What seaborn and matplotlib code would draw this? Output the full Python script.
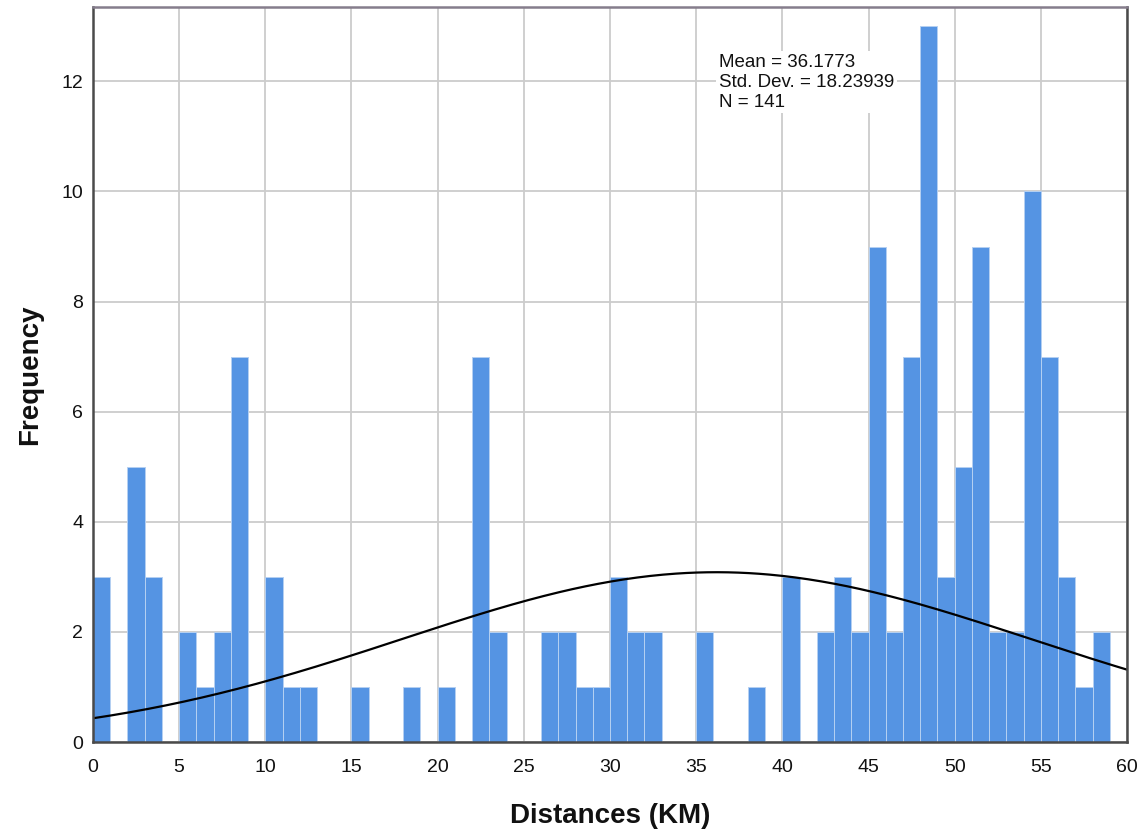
import numpy as np
import pandas as pd
import matplotlib
matplotlib.use("Agg")
import matplotlib.pyplot as plt
import seaborn as sns

# Frequency of distances, in 1 km bins starting at 0
bin_starts = list(range(60))
counts = [3, 0, 5, 3, 0, 2, 1, 2, 7, 0,
          3, 1, 1, 0, 0, 1, 0, 0, 1, 0,
          1, 0, 7, 2, 0, 0, 2, 2, 1, 1,
          3, 2, 2, 0, 0, 2, 0, 0, 1, 0,
          3, 0, 2, 3, 2, 9, 2, 7, 13, 3,
          5, 9, 2, 2, 10, 7, 3, 1, 2, 0]

# Summary statistics
mean_km = 36.1773
std_km = 18.23939
n_obs = 141

x_ticks = [0, 5, 10, 15, 20, 25, 30, 35, 40, 45, 50, 55, 60]
y_ticks = [0, 2, 4, 6, 8, 10, 12]

sns.set_theme(style="white")
plt.rcParams["font.family"] = ["Liberation Sans", "DejaVu Sans"]

df = pd.DataFrame({"mid": np.array(bin_starts) + 0.5, "count": counts})

fig = plt.figure(figsize=(11.45, 8.34), dpi=100)
ax = fig.add_axes([0.0812, 0.1103, 0.9031, 0.8813])

ax.grid(True, color="#cccccc", linewidth=1.3)
ax.set_axisbelow(True)

sns.histplot(data=df, x="mid", weights="count", binwidth=1, binrange=(0, 60),
             ax=ax, color="#5594e3", alpha=1.0, edgecolor="#b5d0f2",
             linewidth=0.7)

# Normal curve scaled to counts per 1 km bin
xs = np.linspace(0, 60, 400)
ys = n_obs * 1.0 * np.exp(-0.5 * ((xs - mean_km) / std_km) ** 2) / (std_km * np.sqrt(2 * np.pi))
sns.lineplot(x=xs, y=ys, ax=ax, color="black", linewidth=1.6)

ax.set_xlim(0, 60)
ax.set_ylim(0, 13.35)
ax.set_xticks(x_ticks)
ax.set_yticks(y_ticks)
ax.tick_params(axis="both", labelsize=14, colors="#111111", length=0)
ax.tick_params(axis="x", pad=12)
ax.tick_params(axis="y", pad=7)

for side in ["left", "bottom", "right"]:
    ax.spines[side].set_color("#4a4a4a")
    ax.spines[side].set_linewidth(1.8)
ax.spines["top"].set_color("#857d8c")
ax.spines["top"].set_linewidth(1.8)

ax.set_xlabel("Distances (KM)", fontsize=20, fontweight="bold", labelpad=20,
              color="#111111")
ax.set_ylabel("Frequency", fontsize=20, fontweight="bold", labelpad=13,
              color="#111111")

ax.text(36.33, 12.5,
        f"Mean = {mean_km:.4f}\nStd. Dev. = {std_km:.5f}\nN = {n_obs}",
        fontsize=13.5, color="#111111", ha="left", va="top", linespacing=1.22,
        bbox=dict(facecolor="white", edgecolor="none", pad=2))

fig.savefig("out.png", dpi=100)
